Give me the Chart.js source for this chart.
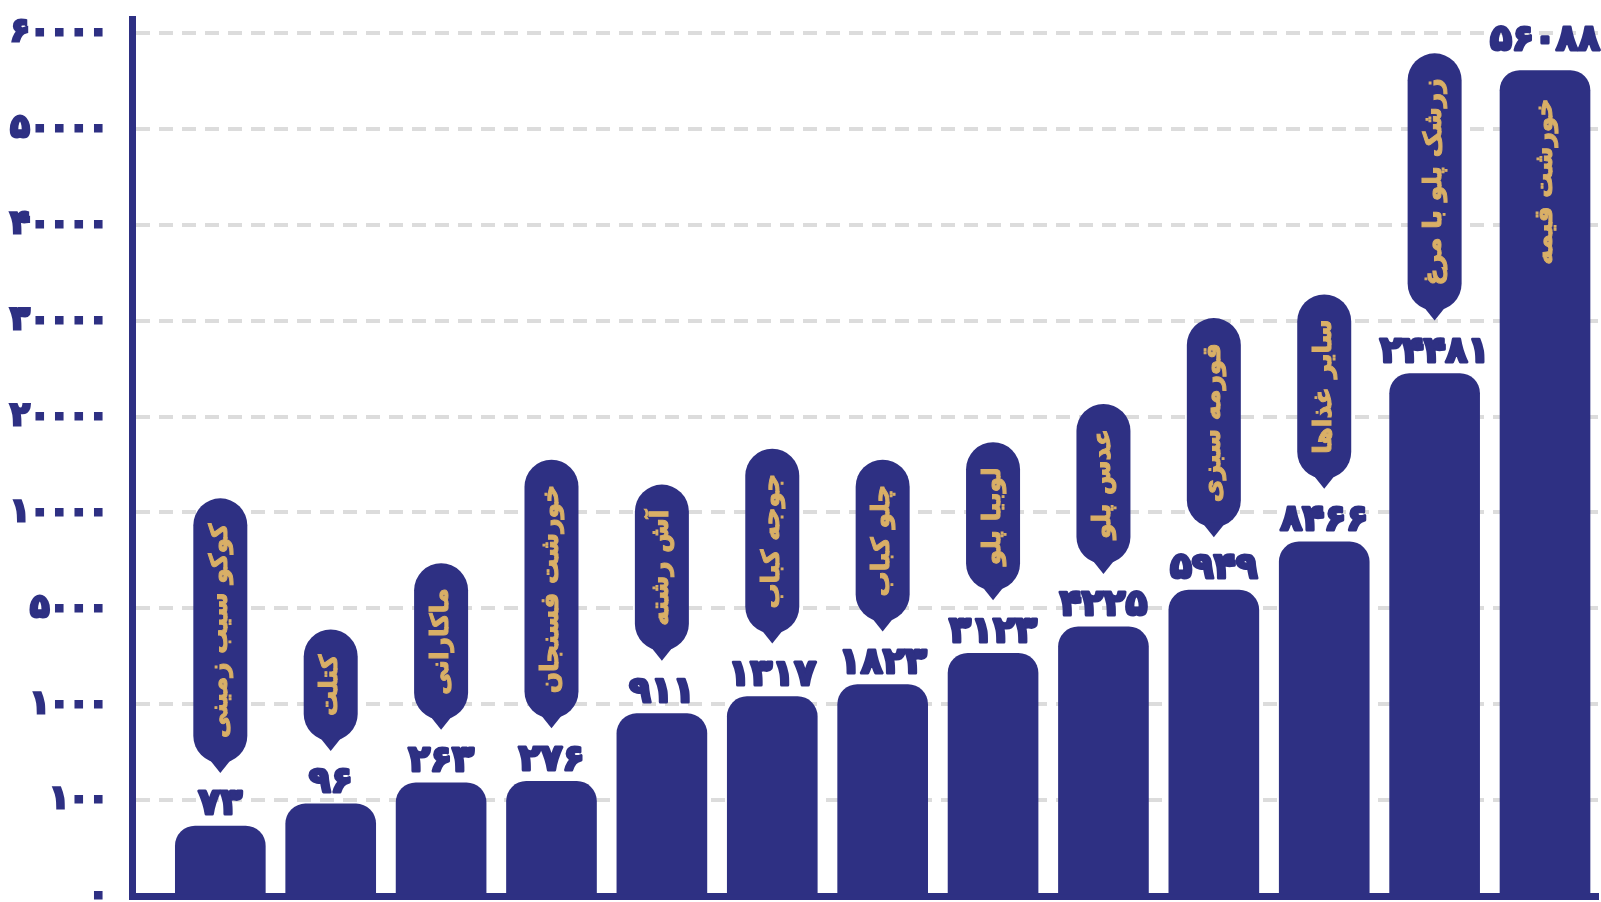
<!DOCTYPE html>
<html lang="fa">
<head>
<meta charset="utf-8">
<title>غذاها</title>
<script src="https://cdn.jsdelivr.net/npm/chart.js@4.4.1/dist/chart.umd.min.js"></script>
<style>
  html, body { margin: 0; padding: 0; background: #ffffff; }
  #wrap { width: 1601px; height: 902px; }
</style>
</head>
<body>
<div id="wrap"><canvas id="foodChart" width="1601" height="902"></canvas></div>
<script>
// نام غذاها (از چپ به راست)
const foods = ['کوکو سیب زمینی', 'کتلت', 'ماکارانی', 'خورشت فسنجان', 'آش رشته', 'جوجه کباب',
  'چلو کباب', 'لوبیا پلو', 'عدس پلو', 'قورمه سبزی', 'سایر غذاها', 'زرشک پلو با مرغ', 'خورشت قیمه'];
// تعداد سفارش هر غذا
const counts = [73, 96, 263, 276, 911, 1317, 1823, 3123, 4225, 5949, 8466, 24481, 56088];
// مقادیر خطوط محور عمودی (فاصله‌ها در تصویر مساوی هستند)
const yTicks = [0, 100, 1000, 5000, 10000, 20000, 30000, 40000, 50000, 60000];

const BLUE = '#2e3083';
const GOLD = '#d9af66';

// تبدیل ارقام به فارسی
function toFa(n) {
    return String(n).replace(/[0-9]/g, d => '۰۱۲۳۴۵۶۷۸۹'[d]);
}

// مقدار را روی محور قطعه‌ای (شماره خط) می‌برد
function toAxis(v) {
    for (let i = 0; i < yTicks.length - 1; i++) {
        if (v <= yTicks[i + 1]) {
            return i + (v - yTicks[i]) / (yTicks[i + 1] - yTicks[i]);
        }
    }
    return yTicks.length - 1;
}

// برچسب عدد و کادر نام بالای هر ستون
const calloutPlugin = {
    id: 'callouts',
    afterDatasetsDraw(chart) {
        const ctx = chart.ctx;
        const meta = chart.getDatasetMeta(0);
        meta.data.forEach((bar, i) => {
            const x = bar.x;
            const top = bar.y;
            const last = i === counts.length - 1;

            // عدد بالای ستون
            ctx.save();
            ctx.fillStyle = BLUE;
            ctx.strokeStyle = BLUE;
            ctx.lineWidth = 3;
            ctx.lineJoin = 'round';
            ctx.font = 'bold 36px "DejaVu Sans"';
            ctx.textAlign = 'center';
            ctx.textBaseline = 'middle';
            const ly = top - (last ? 30 : 21);
            ctx.strokeText(toFa(counts[i]), x, ly);
            ctx.fillText(toFa(counts[i]), x, ly);
            ctx.restore();

            ctx.save();
            ctx.font = 'bold 25px "DejaVu Sans"';
            ctx.direction = 'rtl';
            const tw = ctx.measureText(foods[i]).width;

            if (last) {
                // نام داخل ستون آخر
                ctx.translate(x, top + 28 + tw / 2);
                ctx.rotate(-Math.PI / 2);
                ctx.fillStyle = GOLD;
                ctx.strokeStyle = GOLD;
                ctx.lineWidth = 1;
                ctx.textAlign = 'center';
                ctx.textBaseline = 'middle';
                ctx.strokeText(foods[i], 0, 0);
                ctx.fillText(foods[i], 0, 0);
                ctx.restore();
                return;
            }

            const w = 54, r = 27;
            const tip = top - 53;
            const bodyBottom = tip - 10;
            const bodyTop = bodyBottom - (tw + 50);

            ctx.fillStyle = BLUE;
            ctx.beginPath();
            ctx.moveTo(x - w / 2, bodyTop + r);
            ctx.arc(x, bodyTop + r, r, Math.PI, 0);
            ctx.lineTo(x + w / 2, bodyBottom - r);
            ctx.arc(x, bodyBottom - r, r, 0, Math.PI);
            ctx.closePath();
            ctx.fill();
            // نوک کادر
            ctx.beginPath();
            ctx.moveTo(x - 12, bodyBottom - 5);
            ctx.lineTo(x + 12, bodyBottom - 5);
            ctx.lineTo(x, tip);
            ctx.closePath();
            ctx.fill();

            ctx.translate(x, (bodyTop + bodyBottom) / 2);
            ctx.rotate(-Math.PI / 2);
            ctx.fillStyle = GOLD;
            ctx.strokeStyle = GOLD;
            ctx.lineWidth = 1;
            ctx.textAlign = 'center';
            ctx.textBaseline = 'middle';
            ctx.strokeText(foods[i], 0, 0);
            ctx.fillText(foods[i], 0, 0);
            ctx.restore();
        });
    }
};

const ctx = document.getElementById('foodChart').getContext('2d');
const foodChart = new Chart(ctx, {
    type: 'bar',
    data: {
        datasets: [{
            label: 'تعداد',
            data: counts.map((v, i) => ({ x: i, y: toAxis(v) })),
            backgroundColor: BLUE,
            borderWidth: 0,
            borderRadius: { topLeft: 20, topRight: 20, bottomLeft: 0, bottomRight: 0 },
            borderSkipped: false,
            barThickness: 90
        }]
    },
    options: {
        responsive: false,
        animation: false,
        devicePixelRatio: 1,
        layout: { padding: { top: 19, right: 3, left: 0, bottom: 0 } },
        plugins: {
            legend: { display: false },
            tooltip: { enabled: false }
        },
        scales: {
            x: {
                type: 'linear',
                offset: false,
                min: -0.8,
                max: 12.48,
                ticks: { display: false },
                grid: { display: false, drawTicks: false, offset: false },
                border: { display: true, color: BLUE, width: 7 },
                afterFit(scale) { scale.height = 6; }
            },
            y: {
                min: 0,
                max: 9.146,
                afterBuildTicks(scale) {
                    scale.ticks = yTicks.map((t, i) => ({ value: i }));
                },
                ticks: {
                    padding: 24,
                    color: BLUE,
                    textStrokeColor: BLUE,
                    textStrokeWidth: 3,
                    font: { family: '"DejaVu Sans"', size: 32, weight: 'bold', lineHeight: 1 },
                    callback: (v) => toFa(yTicks[Math.round(v)])
                },
                grid: {
                    drawTicks: false,
                    lineWidth: 4,
                    color: (c) => c.index === 0 ? 'rgba(0,0,0,0)' : '#dcdcdc'
                },
                border: { display: true, color: BLUE, width: 7, dash: [14, 9] },
                afterFit(scale) {
                    scale.width = 132;
                    scale.paddingTop = 0;
                    scale.paddingBottom = 0;
                }
            }
        }
    },
    plugins: [calloutPlugin]
});
</script>
</body>
</html>
